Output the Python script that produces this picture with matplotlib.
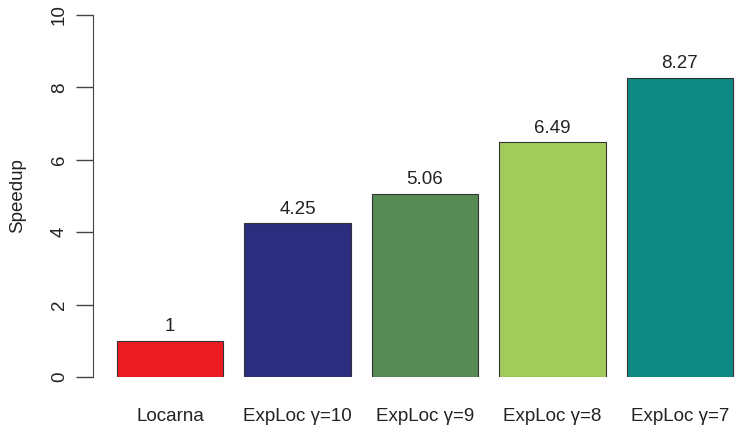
import numpy as np
import matplotlib.pyplot as plt

plt.rc('font', family=['Liberation Sans', 'DejaVu Sans'], size=13.5)

methods = ['Locarna', 'ExpLoc γ=10', 'ExpLoc γ=9', 'ExpLoc γ=8', 'ExpLoc γ=7']
speedup = [1.0, 4.25, 5.06, 6.49, 8.27]
labels = ['1', '4.25', '5.06', '6.49', '8.27']
colors = ['#ED1C24', '#2B2D7F', '#568B55', '#A3CB5B', '#0E8A84']

fig = plt.figure(figsize=(7.38, 4.30), dpi=100)
ax = fig.add_axes([93/738, 53/430, 645/738, 362/430])

x = np.arange(len(methods))
ax.bar(x, speedup, width=0.833, color=colors, edgecolor='#333333', linewidth=0.8)
for xi, v, lab in zip(x, speedup, labels):
    ax.text(xi, v + 0.15, lab, ha='center', va='bottom', color='#222222')

ax.set_xlim(-0.604, 4.455)
ax.set_ylim(0, 10)
ax.set_yticks([0, 2, 4, 6, 8, 10])
ax.set_yticklabels(['0', '2', '4', '6', '8', '10'], rotation=90, va='center')
ax.tick_params(axis='y', length=12, width=1, color='#444444', pad=6, labelcolor='#222222')
ax.set_xticks(x)
ax.set_xticklabels(methods, color='#222222')
ax.tick_params(axis='x', length=0, pad=22)
for s in ['top', 'right', 'bottom']:
    ax.spines[s].set_visible(False)
ax.spines['left'].set_color('#444444')
ax.set_ylabel('Speedup', color='#222222', labelpad=18)

fig.savefig('out.png', dpi=100)
